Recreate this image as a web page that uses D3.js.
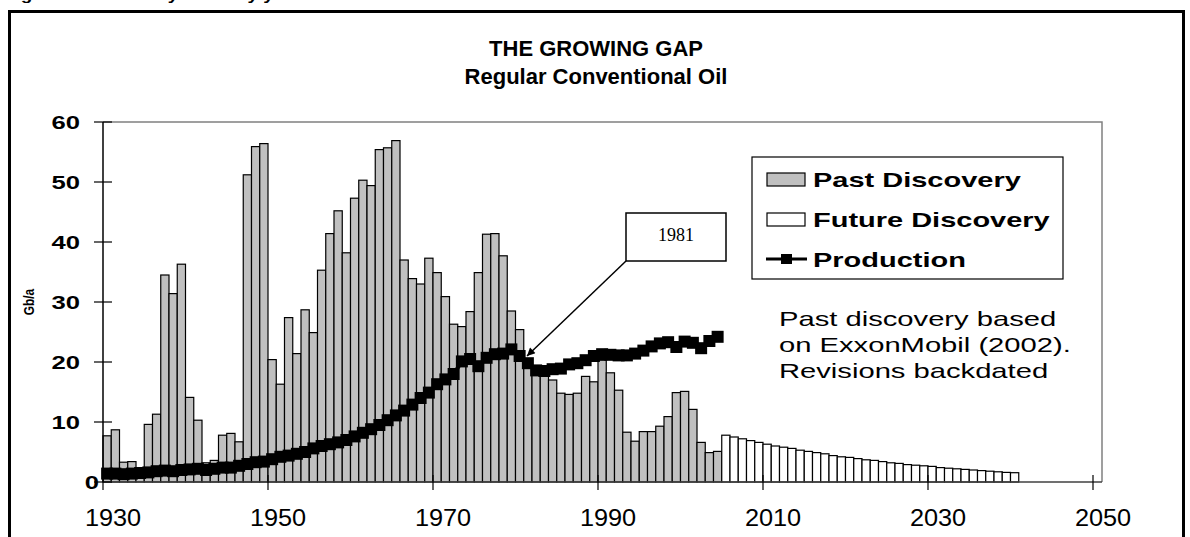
<!DOCTYPE html>
<html>
<head>
<meta charset="utf-8">
<script src="https://cdn.jsdelivr.net/npm/d3@7"></script>
<style>
  body { margin: 0; background: #ffffff; }
  text { font-family: Arial, "Liberation Sans", sans-serif; }
</style>
</head>
<body>
<div id="chart"></div>
<script>
let chart_width = 1190;
let chart_height = 537;

// years 1930..2004
let past_years = d3.range(1930, 2005);
let past_discovery = [7.7, 8.7, 3.3, 3.4, 1.5, 9.6, 11.3, 34.5, 31.4, 36.3,
    14.1, 10.3, 3.2, 3.6, 7.8, 8.1, 6.7, 51.2, 55.9, 56.4,
    20.4, 16.3, 27.4, 21.4, 28.7, 24.9, 35.3, 41.4, 45.2, 38.2,
    47.3, 50.3, 49.4, 55.4, 55.7, 56.9, 37.0, 33.9, 33.0, 37.3,
    34.9, 30.9, 26.3, 25.9, 28.4, 34.9, 41.3, 41.4, 37.7, 28.5,
    25.4, 20.5, 19.0, 17.7, 17.0, 14.8, 14.6, 14.8, 17.6, 16.7,
    20.3, 18.2, 15.3, 8.3, 6.8, 8.4, 8.4, 9.3, 10.9, 14.9,
    15.1, 12.1, 6.6, 4.9, 5.1];
let production = [1.4, 1.4, 1.3, 1.4, 1.5, 1.6, 1.8, 1.9, 1.8, 2.0,
    2.1, 2.2, 2.0, 2.2, 2.4, 2.4, 2.7, 3.0, 3.3, 3.4,
    3.8, 4.2, 4.4, 4.7, 5.0, 5.6, 6.0, 6.3, 6.6, 7.0,
    7.6, 8.2, 8.8, 9.5, 10.3, 11.1, 11.9, 12.9, 14.0, 14.9,
    16.3, 17.1, 18.0, 20.1, 20.5, 19.3, 20.7, 21.3, 21.4, 22.1,
    21.0, 19.8, 18.6, 18.5, 18.8, 18.9, 19.6, 19.8, 20.3, 21.0,
    21.3, 21.2, 21.1, 21.1, 21.4, 21.9, 22.6, 23.1, 23.3, 22.5,
    23.4, 23.2, 22.3, 23.5, 24.2];

// years 2005..2040
let future_years = d3.range(2005, 2041);
let future_discovery = [7.8, 7.5, 7.2, 6.9, 6.6, 6.3, 6.0, 5.8, 5.6, 5.3,
    5.1, 4.9, 4.7, 4.4, 4.2, 4.1, 3.9, 3.7, 3.6, 3.4,
    3.2, 3.1, 2.9, 2.8, 2.7, 2.6, 2.4, 2.3, 2.2, 2.1,
    2.0, 1.9, 1.8, 1.7, 1.6, 1.55];

let x_ticks = [1930, 1950, 1970, 1990, 2010, 2030, 2050];
let y_ticks = [0, 10, 20, 30, 40, 50, 60];
let legend_labels = ['Past Discovery', 'Future Discovery', 'Production'];
let note_lines = ['Past discovery based', 'on ExxonMobil (2002).', 'Revisions backdated'];

let plot = {left: 103, right: 1102, top: 122, bottom: 482};

let xScale = d3.scaleLinear().domain([1930, 2050]).range([103, 1093]);
let yScale = d3.scaleLinear().domain([0, 60]).range([plot.bottom, plot.top]);
let barW = xScale(1931) - xScale(1930);

let svg = d3.select('#chart')
    .append('svg')
    .attr('width', chart_width)
    .attr('height', chart_height);

// stretched text, the original picture is wide
function stretchText(target, str, x, y, sx, size, weight, anchor){
    return target.append('text')
        .text(str)
        .attr('transform', 'translate(' + x + ',' + y + ') scale(' + sx + ',1)')
        .attr('text-anchor', anchor)
        .style('font-size', size + 'px')
        .style('font-weight', weight)
        .attr('fill', '#000');
}

// caption above the frame, cut off by the page edge as in the original
stretchText(svg, 'Figure 1. Discovery trend by year', 4, 0, 1.35, 14, 'bold', 'start');

// outer frame
svg.append('rect')
    .attr('x', 9.5).attr('y', 11.5)
    .attr('width', 1174).attr('height', 560)
    .attr('fill', 'none')
    .attr('stroke', '#000')
    .attr('stroke-width', 3);

// title
stretchText(svg, 'THE GROWING GAP', 596, 56, 1, 22, 'bold', 'middle');
stretchText(svg, 'Regular Conventional Oil', 596, 84, 1, 22, 'bold', 'middle');

// plot area border (top and right gray)
svg.append('path')
    .attr('d', 'M' + plot.left + ',' + plot.top + 'H' + plot.right + 'V' + plot.bottom)
    .attr('fill', 'none')
    .attr('stroke', '#808080')
    .attr('stroke-width', 1.5);

// bars
let barG = svg.append('g').attr('id', 'bars');
barG.selectAll('.past')
    .data(past_years)
    .enter()
    .append('rect')
    .attr('class', 'past')
    .attr('x', d => xScale(d))
    .attr('y', (d, i) => yScale(past_discovery[i]))
    .attr('width', barW)
    .attr('height', (d, i) => yScale(0) - yScale(past_discovery[i]))
    .attr('fill', '#C0C0C0')
    .attr('stroke', '#000')
    .attr('stroke-width', 1.2);

barG.selectAll('.future')
    .data(future_years)
    .enter()
    .append('rect')
    .attr('class', 'future')
    .attr('x', d => xScale(d))
    .attr('y', (d, i) => yScale(future_discovery[i]))
    .attr('width', barW)
    .attr('height', (d, i) => yScale(0) - yScale(future_discovery[i]))
    .attr('fill', '#ffffff')
    .attr('stroke', '#000')
    .attr('stroke-width', 1.2);

// axes
svg.append('line')
    .attr('x1', plot.left).attr('x2', plot.right)
    .attr('y1', plot.bottom).attr('y2', plot.bottom)
    .attr('stroke', '#404040').attr('stroke-width', 1.5);
svg.append('line')
    .attr('x1', plot.left).attr('x2', plot.left)
    .attr('y1', plot.top).attr('y2', plot.bottom)
    .attr('stroke', '#000').attr('stroke-width', 1.5);

y_ticks.forEach(function(t){
    svg.append('line')
        .attr('x1', plot.left - 9).attr('x2', plot.left + 9)
        .attr('y1', yScale(t)).attr('y2', yScale(t))
        .attr('stroke', '#000').attr('stroke-width', 1.2);
    // the zero label sits closer to the axis in the original
    stretchText(svg, t, t === 0 ? 99 : 80, yScale(t) + 7, 1.35, 19, 'bold', 'end');
});

x_ticks.forEach(function(t){
    svg.append('line')
        .attr('x1', xScale(t)).attr('x2', xScale(t))
        .attr('y1', plot.bottom - 7).attr('y2', plot.bottom + 8)
        .attr('stroke', '#000').attr('stroke-width', 1.2);
    stretchText(svg, t, xScale(t) + 10, 526, 1.1, 23, 'normal', 'middle');
});

svg.append('text')
    .text('Gb/a')
    .attr('transform', 'translate(34,302) rotate(-90) scale(0.85,1)')
    .attr('text-anchor', 'middle')
    .style('font-size', '14px')
    .style('font-weight', 'bold');

// production line
let prodData = past_years.map((d, i) => ({year: d, value: production[i]}));
let prod_line = d3.line()
    .x(d => xScale(d.year) + barW / 2)
    .y(d => yScale(d.value));

let prodG = svg.append('g').attr('id', 'production');
prodG.append('path')
    .datum(prodData)
    .attr('d', prod_line)
    .attr('fill', 'none')
    .attr('stroke', '#000')
    .attr('stroke-width', 4);
prodG.selectAll('rect')
    .data(prodData)
    .enter()
    .append('rect')
    .attr('x', d => xScale(d.year) + barW / 2 - 6)
    .attr('y', d => yScale(d.value) - 6)
    .attr('width', 12)
    .attr('height', 12)
    .attr('fill', '#000');

// 1981 callout
svg.append('defs').append('marker')
    .attr('id', 'arrow')
    .attr('viewBox', '0 0 10 10')
    .attr('refX', 10).attr('refY', 5)
    .attr('markerWidth', 10).attr('markerHeight', 8)
    .attr('markerUnits', 'userSpaceOnUse')
    .attr('orient', 'auto')
    .append('path')
    .attr('d', 'M0,0L10,5L0,10z')
    .attr('fill', '#000');

svg.append('line')
    .attr('x1', 626).attr('y1', 261)
    .attr('x2', 527).attr('y2', 356)
    .attr('stroke', '#000')
    .attr('stroke-width', 1.5)
    .attr('marker-end', 'url(#arrow)');
svg.append('rect')
    .attr('x', 626).attr('y', 213)
    .attr('width', 100).attr('height', 48)
    .attr('fill', '#fff')
    .attr('stroke', '#000')
    .attr('stroke-width', 1.5);
svg.append('text')
    .text('1981')
    .attr('x', 676).attr('y', 241)
    .attr('text-anchor', 'middle')
    .style('font-family', '"Liberation Serif", "Times New Roman", serif')
    .style('font-size', '18px');

// legend
let legend = svg.append('g').attr('id', 'legend');
legend.append('rect')
    .attr('x', 752).attr('y', 157)
    .attr('width', 311).attr('height', 122)
    .attr('fill', '#fff')
    .attr('stroke', '#000')
    .attr('stroke-width', 1.2);
legend.append('rect')
    .attr('x', 767).attr('y', 173).attr('width', 38).attr('height', 13)
    .attr('fill', '#C0C0C0').attr('stroke', '#000').attr('stroke-width', 1.2);
legend.append('rect')
    .attr('x', 767).attr('y', 213).attr('width', 38).attr('height', 13)
    .attr('fill', '#fff').attr('stroke', '#000').attr('stroke-width', 1.2);
legend.append('line')
    .attr('x1', 766).attr('x2', 807).attr('y1', 259).attr('y2', 259)
    .attr('stroke', '#000').attr('stroke-width', 3);
legend.append('rect')
    .attr('x', 781).attr('y', 254).attr('width', 11).attr('height', 10)
    .attr('fill', '#000');
legend_labels.forEach(function(l, i){
    stretchText(legend, l, 813, 187 + i * 40, 1.45, 20, 'bold', 'start');
});

// note
note_lines.forEach(function(l, i){
    stretchText(svg, l, 779, 326 + i * 26, 1.39, 21, 'normal', 'start');
});
</script>
</body>
</html>
